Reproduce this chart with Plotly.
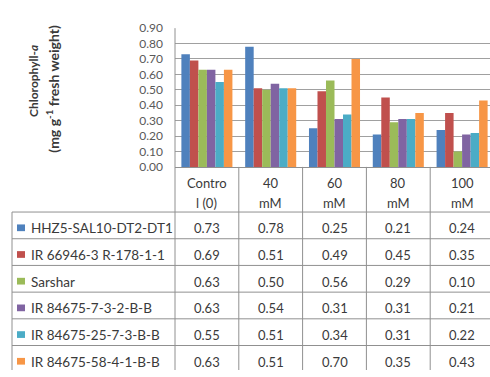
import plotly.graph_objects as go

# Salt treatments (columns) and genotypes (series)
categories = ["Control (0)", "40 mM", "60 mM", "80 mM", "100 mM"]
header_top = ["Contro", "40", "60", "80", "100"]
header_bottom = ["l (0)", "mM", "mM", "mM", "mM"]

genotypes = [
    "HHZ5-SAL10-DT2-DT1",
    "IR 66946-3 R-178-1-1",
    "Sarshar",
    "IR 84675-7-3-2-B-B",
    "IR 84675-25-7-3-B-B",
    "IR 84675-58-4-1-B-B",
]

hhz5 = [0.73, 0.78, 0.25, 0.21, 0.24]
ir66946 = [0.69, 0.51, 0.49, 0.45, 0.35]
sarshar = [0.63, 0.50, 0.56, 0.29, 0.10]
ir84675_7 = [0.63, 0.54, 0.31, 0.31, 0.21]
ir84675_25 = [0.55, 0.51, 0.34, 0.31, 0.22]
ir84675_58 = [0.63, 0.51, 0.70, 0.35, 0.43]

series_values = [hhz5, ir66946, sarshar, ir84675_7, ir84675_25, ir84675_58]
colors = ["#4F81BD", "#C0504D", "#9BBB59", "#8064A2", "#4BACC6", "#F79646"]

W, H = 490, 377
FONT = "Lato"
TEXT = "#3a3a3a"
GRID = "#a0a0a0"
LINE = "#909090"


def px_x(x):
    return x / W


def px_y(y):
    return 1 - y / H


fig = go.Figure()
for name, vals, col in zip(genotypes, series_values, colors):
    fig.add_trace(go.Bar(x=categories, y=vals, name=name,
                         marker=dict(color=col, line=dict(width=0)),
                         showlegend=False))

plot_left = 175
plot_top, plot_bottom = 21, 165.5
cat_w = 63.8
x_max = -0.5 + (W - plot_left) / cat_w

# data-table geometry
row_top = 212.5
row_h = 27.8
table_left = 12

shapes = []
annotations = []

# axis line extended down through the table
shapes.append(dict(type="line", xref="x domain", yref="paper", x0=0, x1=0,
                   y0=px_y(plot_top), y1=0, line=dict(color=LINE, width=1)))
# column dividers between treatments
for k in range(1, len(categories)):
    shapes.append(dict(type="line", xref="x", yref="paper", x0=k - 0.5, x1=k - 0.5,
                       y0=px_y(plot_bottom), y1=0, line=dict(color=LINE, width=1)))
# left border of the legend column
shapes.append(dict(type="line", xref="paper", yref="paper", x0=px_x(table_left),
                   x1=px_x(table_left), y0=px_y(row_top), y1=0,
                   line=dict(color=LINE, width=1)))
# row separators
for r in range(len(genotypes) + 1):
    y = row_top + r * row_h
    if y > H:
        break
    shapes.append(dict(type="line", xref="paper", yref="paper", x0=px_x(table_left),
                       x1=1, y0=px_y(y), y1=px_y(y), line=dict(color=LINE, width=1)))

# header text
for cat, t, b in zip(categories, header_top, header_bottom):
    annotations.append(dict(x=cat, xref="x", y=px_y(182), yref="paper", text=t,
                            showarrow=False, font=dict(family=FONT, size=13, color=TEXT),
                            xanchor="center", yanchor="middle"))
    annotations.append(dict(x=cat, xref="x", y=px_y(203), yref="paper", text=b,
                            showarrow=False, font=dict(family=FONT, size=13, color=TEXT),
                            xanchor="center", yanchor="middle"))

# series rows: legend key, name, values
for r, (name, vals, col) in enumerate(zip(genotypes, series_values, colors)):
    yc = row_top + r * row_h + row_h / 2 + 3
    shapes.append(dict(type="rect", xref="paper", yref="paper",
                       x0=px_x(17), x1=px_x(25), y0=px_y(yc - 4), y1=px_y(yc + 3),
                       fillcolor=col, line=dict(width=0)))
    annotations.append(dict(x=px_x(29), xref="paper", y=px_y(yc), yref="paper",
                            text=name, showarrow=False, xanchor="left", yanchor="middle",
                            font=dict(family=FONT, size=13.5, color=TEXT)))
    for cat, v in zip(categories, vals):
        annotations.append(dict(x=cat, xref="x", y=px_y(yc), yref="paper",
                                text=f"{v:.2f}", showarrow=False,
                                xanchor="center", yanchor="middle",
                                font=dict(family=FONT, size=13, color=TEXT)))

# vertical axis title
annotations.append(dict(x=px_x(34), y=px_y(76), xref="paper", yref="paper",
                        text="<b>Chlorophyll-<i>a</i></b>", textangle=-90, showarrow=False,
                        font=dict(family=FONT, size=12, color=TEXT),
                        xanchor="center", yanchor="middle"))
annotations.append(dict(x=px_x(53), y=px_y(84), xref="paper", yref="paper",
                        text="<b>(mg g<sup>-1</sup> fresh weight)</b>", textangle=-90,
                        showarrow=False, font=dict(family=FONT, size=14, color=TEXT),
                        xanchor="center", yanchor="middle"))

fig.update_layout(
    width=W, height=H,
    margin=dict(l=0, r=0, t=0, b=0),
    paper_bgcolor="white", plot_bgcolor="white",
    barmode="group", bargap=0.2, bargroupgap=0,
    shapes=shapes, annotations=annotations,
    xaxis=dict(domain=[px_x(plot_left), 1], range=[-0.5, x_max],
               showticklabels=False, showgrid=False, zeroline=False,
               showline=True, linecolor=LINE, linewidth=1, ticks=""),
    yaxis=dict(domain=[px_y(plot_bottom), px_y(plot_top)], range=[0, 0.9],
               dtick=0.1, tickformat=".2f", showgrid=True, gridcolor=GRID,
               gridwidth=1, zeroline=False, showline=False, ticks="",
               ticklabelstandoff=11,
               tickfont=dict(family=FONT, size=12, color="#595959")),
)

fig.write_html("out.html")
